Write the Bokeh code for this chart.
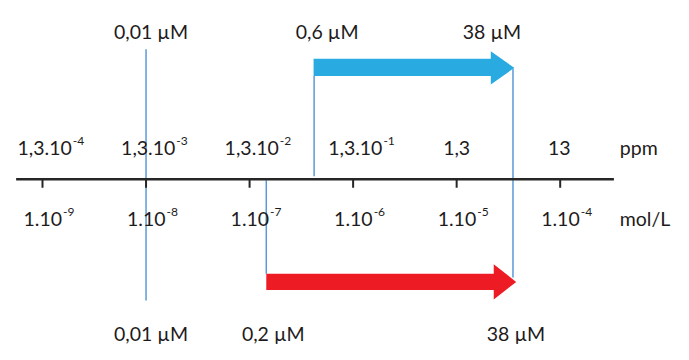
from bokeh.plotting import figure
from bokeh.models import Range1d, ColumnDataSource
from bokeh.core.properties import value
from bokeh.embed import file_html
from bokeh.resources import INLINE

# ---- data (concentrations in mol/L) ----
TICK_CONC = [1e-9, 1e-8, 1e-7, 1e-6, 1e-5, 1e-4]
MOL_BASE = ["1.10", "1.10", "1.10", "1.10", "1.10", "1.10"]
MOL_EXP = ["-9", "-8", "-7", "-6", "-5", "-4"]
PPM_BASE = ["1,3.10", "1,3.10", "1,3.10", "1,3.10", "1,3", "13"]
PPM_EXP = ["-4", "-3", "-2", "-1", "", ""]
UNIT_LABELS = ["ppm", "mol/L"]

TOP_LABELS = ["0,01 µM", "0,6 µM", "38 µM"]
TOP_CONC = [1e-8, 4.2e-7, 3.5e-5]
BOTTOM_LABELS = ["0,01 µM", "0,2 µM", "38 µM"]
BOTTOM_CONC = [1e-8, 1.45e-7, 3.5e-5]

BLUE_RANGE = [4.15e-7, 3.6e-5]   # start, tip
RED_RANGE = [1.45e-7, 3.76e-5]   # start, tip

GUIDE_CONC = [1e-8, 4.2e-7, 1.45e-7, 3.5e-5]

# ---- layout (geometry in units of a 689x360 drawing) ----
PX_PER_DEC = 106.0
def shift(c, px):
    return c * 10 ** (px / PX_PER_DEC)

W, H = 673, 344
x_lo = shift(TICK_CONC[0], -43)
x_hi = shift(x_lo, 689)

p = figure(width=W, height=H, x_axis_type="log", title=None,
           x_range=Range1d(x_lo, x_hi), y_range=Range1d(360, 0),
           output_backend="svg", toolbar_location=None,
           x_axis_location=None, y_axis_location=None,
           min_border=0, outline_line_color=None)
p.grid.visible = False
p.background_fill_color = "white"
p.border_fill_color = "white"

AXIS_Y = 187
FONT = value("Lato")
FS = "19.5px"
FS_EXP = "12px"
TXT_COL = "#1E1B1C"
GUIDE_COL = "#5B9BD5"

# guide lines (vertical)
guide_y0 = [51, 79, 188, 71]
guide_y1 = [314, 184, 286, 290]
p.segment(x0=GUIDE_CONC, x1=GUIDE_CONC, y0=guide_y0, y1=guide_y1,
          line_color=GUIDE_COL, line_width=1.5)

# main axis line and ticks
p.segment(x0=[shift(TICK_CONC[0], -27)], x1=[shift(TICK_CONC[-1], 55)],
          y0=[AXIS_Y], y1=[AXIS_Y], line_color="#262626", line_width=2.5)
p.segment(x0=TICK_CONC, x1=TICK_CONC, y0=[AXIS_Y] * len(TICK_CONC),
          y1=[AXIS_Y + 9] * len(TICK_CONC), line_color="#262626", line_width=2)

# arrows
def arrow(start, tip, shaft_top, shaft_bot, head_top, head_bot, head_len):
    hs = shift(tip, -head_len)
    mid = (head_top + head_bot) / 2
    xs = [start, hs, hs, tip, hs, hs, start]
    ys = [shaft_top, shaft_top, head_top, mid, head_bot, shaft_bot, shaft_bot]
    return xs, ys

bx, by = arrow(BLUE_RANGE[0], BLUE_RANGE[1], 61, 79, 53, 88, 24)
rx, ry = arrow(RED_RANGE[0], RED_RANGE[1], 286, 303, 276, 313, 23)
p.patches(xs=[bx, rx], ys=[by, ry], fill_color=["#29ABE2", "#ED1C24"],
          line_color=None)

def labels(xs, ys, texts, align="center", size=FS, offs=None):
    src = ColumnDataSource(dict(x=xs, y=ys, t=texts,
                                off=offs if offs else [0] * len(xs)))
    p.text(x="x", y="y", text="t", x_offset="off", source=src, text_font=FONT,
           text_font_size=size, text_align=align, text_baseline="alphabetic",
           text_color=TXT_COL)

def power_row(ticks, bases, exps, y, base_end_px, plain_offs):
    bx_, bt, ex_, et, cx_, ct, co = [], [], [], [], [], [], []
    for t, b, e in zip(ticks, bases, exps):
        if e:
            bx_.append(shift(t, base_end_px)); bt.append(b)
            ex_.append(shift(t, base_end_px + 1)); et.append(e)
        else:
            cx_.append(t); ct.append(b); co.append(plain_offs.pop(0))
    labels(bx_, [y] * len(bx_), bt, "right")
    labels(ex_, [y - 7] * len(ex_), et, "left", FS_EXP)
    if cx_:
        labels(cx_, [y] * len(cx_), ct, "center", FS, co)

# ppm row and mol/L row
power_row(TICK_CONC, PPM_BASE, PPM_EXP, 154, 30, [0, -1])
power_row(TICK_CONC, MOL_BASE, MOL_EXP, 228.5, 20, [])

# unit labels
ux = shift(TICK_CONC[-1], 61)
labels([ux, ux], [154, 228.5], UNIT_LABELS, "left")

# top and bottom concentration labels
labels(TOP_CONC, [32.5] * 3, TOP_LABELS, offs=[5, 13, -21])
labels(BOTTOM_CONC, [348] * 3, BOTTOM_LABELS, offs=[5, 7, 3])

open("out.html", "w").write(file_html(p, INLINE))
